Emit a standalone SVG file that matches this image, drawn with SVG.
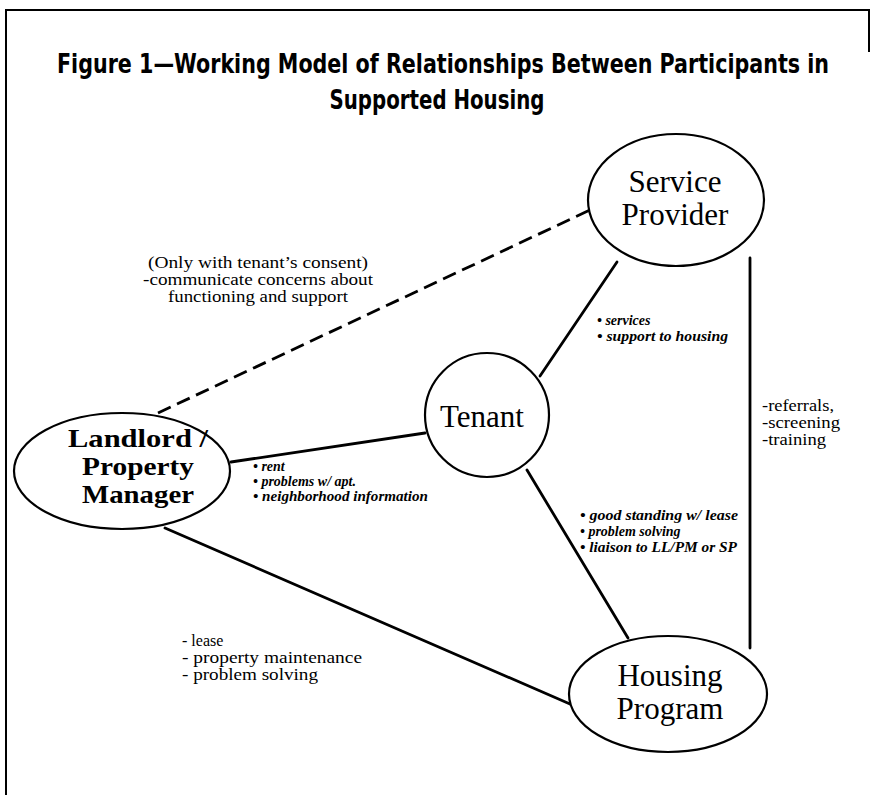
<svg xmlns="http://www.w3.org/2000/svg" width="872" height="795" viewBox="0 0 872 795">
  <style>
    .title { font-family: "Liberation Sans Narrow", "DejaVu Sans Condensed", "Liberation Sans", sans-serif; font-weight: 900; font-size: 22px; fill: #000; text-anchor: middle; }
    .node { fill: #fff; stroke: #000; stroke-width: 2.2; }
    .nlabel { font-family: "Liberation Serif", "Times New Roman", serif; font-size: 31px; fill: #000; text-anchor: middle; }
    .nbold { font-weight: bold; font-size: 26px; }
    .edge { stroke: #000; stroke-width: 2.8; fill: none; stroke-linecap: round; }
    .dash { stroke-dasharray: 14 7; stroke-linecap: butt; }
    .note { font-family: "Liberation Serif", "Times New Roman", serif; font-size: 16px; fill: #000; }
    .item { font-family: "Liberation Serif", "Times New Roman", serif; font-size: 14px; font-style: italic; font-weight: bold; fill: #000; }
    .frame { stroke: #000; stroke-width: 2; fill: none; }
  </style>

  <rect width="872" height="795" fill="#fff"/>

  <!-- page frame -->
  <path class="frame" d="M6,795 V10 H869 V52"/>

  <!-- heading: condensed heavy face, stretched vertically -->
  <g id="title">
    <g transform="translate(443,73) scale(1,1.23)">
      <text class="title" x="0" y="0" textLength="772" lengthAdjust="spacingAndGlyphs">Figure 1—Working Model of Relationships Between Participants in</text>
    </g>
    <g transform="translate(437,109) scale(1,1.23)">
      <text class="title" x="0" y="0" textLength="215" lengthAdjust="spacingAndGlyphs">Supported Housing</text>
    </g>
  </g>

  <!-- connectors -->
  <g id="connectors">
    <line class="edge dash" x1="158" y1="413" x2="590" y2="210"/>
    <line class="edge" x1="231" y1="462" x2="425" y2="433"/>
    <line class="edge" x1="540" y1="376" x2="617" y2="262"/>
    <line class="edge" x1="527" y1="470" x2="628" y2="638"/>
    <line class="edge" x1="165" y1="528" x2="570" y2="704"/>
    <line class="edge" x1="750" y1="258" x2="750" y2="648"/>
  </g>

  <!-- connector notes -->
  <g id="note-consent" class="note" text-anchor="middle">
    <text x="258" y="268" textLength="220" lengthAdjust="spacingAndGlyphs">(Only with tenant’s consent)</text>
    <text x="258" y="285" textLength="230" lengthAdjust="spacingAndGlyphs">-communicate concerns about</text>
    <text x="258" y="302" textLength="180" lengthAdjust="spacingAndGlyphs">functioning and support</text>
  </g>

  <g id="note-services" class="item" font-size="15">
    <text x="597" y="325">• services</text>
    <text x="597" y="341" textLength="131" lengthAdjust="spacingAndGlyphs">• support to housing</text>
  </g>

  <g id="note-rent" class="item" font-size="14">
    <text x="253" y="471">• rent</text>
    <text x="253" y="486">• problems w/ apt.</text>
    <text x="253" y="501" textLength="175" lengthAdjust="spacingAndGlyphs">• neighborhood information</text>
  </g>

  <g id="note-standing" class="item" font-size="15">
    <text x="580" y="520" textLength="158" lengthAdjust="spacingAndGlyphs">• good standing w/ lease</text>
    <text x="580" y="536">• problem solving</text>
    <text x="580" y="552" textLength="157" lengthAdjust="spacingAndGlyphs">• liaison to LL/PM or SP</text>
  </g>

  <g id="note-referrals" class="note">
    <text x="762" y="411" textLength="72" lengthAdjust="spacingAndGlyphs">-referrals,</text>
    <text x="762" y="428" textLength="78" lengthAdjust="spacingAndGlyphs">-screening</text>
    <text x="762" y="445" textLength="64" lengthAdjust="spacingAndGlyphs">-training</text>
  </g>

  <g id="note-lease" class="note" style="white-space: pre">
    <text x="182" y="646">- lease</text>
    <text x="182" y="663" textLength="180" lengthAdjust="spacingAndGlyphs">- property  maintenance</text>
    <text x="182" y="680" textLength="136" lengthAdjust="spacingAndGlyphs">- problem solving</text>
  </g>

  <!-- nodes -->
  <g id="service-provider">
    <ellipse class="node" cx="676" cy="200" rx="88" ry="66"/>
    <text class="nlabel" x="675" y="192">Service</text>
    <text class="nlabel" x="675" y="225">Provider</text>
  </g>

  <g id="tenant">
    <circle class="node" cx="487" cy="415" r="62"/>
    <text class="nlabel" x="482" y="427" font-size="29">Tenant</text>
  </g>

  <g id="landlord">
    <ellipse class="node" cx="122" cy="471" rx="108" ry="58"/>
    <text class="nlabel nbold" x="138" y="447" textLength="140" lengthAdjust="spacingAndGlyphs">Landlord /</text>
    <text class="nlabel nbold" x="138" y="475" textLength="112" lengthAdjust="spacingAndGlyphs">Property</text>
    <text class="nlabel nbold" x="138" y="503" textLength="112" lengthAdjust="spacingAndGlyphs">Manager</text>
  </g>

  <g id="housing-program">
    <ellipse class="node" cx="668" cy="694" rx="99" ry="58"/>
    <text class="nlabel" x="670" y="686">Housing</text>
    <text class="nlabel" x="670" y="719">Program</text>
  </g>
</svg>
